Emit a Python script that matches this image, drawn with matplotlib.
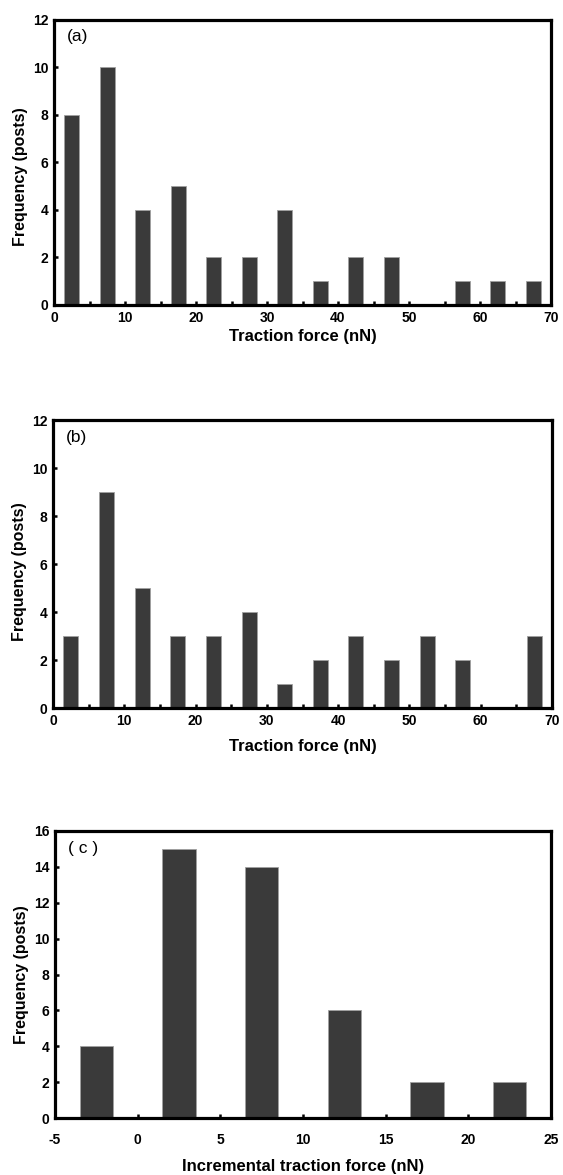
import matplotlib.pyplot as plt
from matplotlib.ticker import MultipleLocator

# bin centres and counts
centers_ab = [2.5, 7.5, 12.5, 17.5, 22.5, 27.5, 32.5, 37.5, 42.5, 47.5, 52.5, 57.5, 62.5, 67.5]
counts_a = [8, 10, 4, 5, 2, 2, 4, 1, 2, 2, 0, 1, 1, 1]
counts_b = [3, 9, 5, 3, 3, 4, 1, 2, 3, 2, 3, 2, 0, 3]
centers_c = [-2.5, 2.5, 7.5, 12.5, 17.5, 22.5]
counts_c = [4, 15, 14, 6, 2, 2]

plt.rcParams['font.family'] = ['Liberation Sans', 'DejaVu Sans']
plt.rcParams['axes.unicode_minus'] = False

W, H = 563, 1175
fig = plt.figure(figsize=(W / 100, H / 100), dpi=100)

bar_color = "#3a3a3a"


def panel(rect, x, y, width, xlim, ylim, xmaj, ymaj, xminor, letter, xlabel, xpad, xlab_y, ylab_y):
    left, top, right, bottom = rect
    ax = fig.add_axes([left / W, 1 - bottom / H, (right - left) / W, (bottom - top) / H])
    ax.bar(x, y, width=width, color=bar_color, edgecolor="#a0a0a0", linewidth=0.6, zorder=3)
    ax.set_xlim(*xlim)
    ax.set_ylim(*ylim)
    ax.xaxis.set_major_locator(MultipleLocator(xmaj))
    if xminor:
        ax.xaxis.set_minor_locator(MultipleLocator(xminor))
    ax.yaxis.set_major_locator(MultipleLocator(ymaj))
    for s in ax.spines.values():
        s.set_linewidth(2.3)
        s.set_zorder(4)
    ax.tick_params(axis="both", which="both", direction="in", length=3, width=1.8,
                   labelsize=10, top=False, right=False)
    ax.tick_params(axis="x", pad=xpad)
    ax.tick_params(axis="y", pad=4)
    for lab in ax.get_xticklabels() + ax.get_yticklabels():
        lab.set_fontweight("bold")
    ax.set_ylabel("Frequency (posts)", fontsize=11.5, fontweight="bold", va="center")
    ax.yaxis.set_label_coords(-0.068, (bottom - ylab_y) / (bottom - top))
    ax.set_xlabel(xlabel, fontsize=12, fontweight="bold", va="center")
    ax.xaxis.set_label_coords(0.5, (bottom - xlab_y) / (bottom - top))
    ax.text(0.026, 0.965, letter, transform=ax.transAxes, ha="left", va="top", fontsize=12.5)
    return ax


panel((54, 19.5, 551, 305), centers_ab, counts_a, 2.1, (0, 70), (0, 12), 10, 2, 5,
      "(a)", "Traction force (nN)", 4, 337, 177)
panel((53, 420, 552, 708), centers_ab, counts_b, 2.1, (0, 70), (0, 12), 10, 2, 5,
      "(b)", "Traction force (nN)", 4, 747, 572)
panel((55, 831, 551, 1118), centers_c, counts_c, 2.0, (-5, 25), (0, 16), 5, 2, None,
      "( c )", "Incremental traction force (nN)", 10.5, 1166, 975)

fig.savefig("out.png", dpi=100)
